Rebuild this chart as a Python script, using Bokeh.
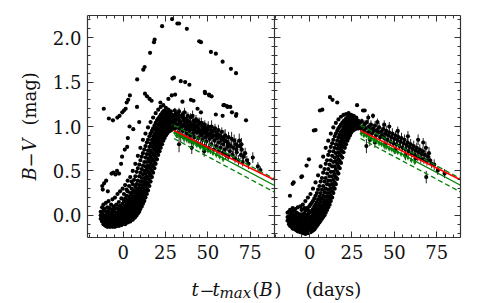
from bokeh.plotting import figure
from bokeh.models import (ColumnDataSource, SingleIntervalTicker, FixedTicker, PrintfTickFormatter,
                          LinearAxis, Range1d)
from bokeh.embed import file_html
from bokeh.resources import INLINE
from bokeh.core.properties import value
import math

# ---------------- data (t - tmax(B) [days], B-V [mag]) ----------------
X_RANGE = (-21, 89)          # each panel
Y_RANGE = (-0.25, 2.25)
TICK_DAYS = [0, 25, 50, 75]
MINOR_DAYS = [-20, -15, -10, -5, 5, 10, 15, 20, 30, 35, 40, 45, 55, 60, 65, 70, 80, 85]

# ---- left panel: rising part, per epoch the B-V values
LEFT_RISE = [
    (-13.2, [-0.04, 0.0, 0.04]),
    (-12.4, [-0.07, -0.03, 0.02, 0.09]),
    (-11.6, [-0.1, -0.06, -0.02, 0.05, 0.12]),
    (-10.9, [-0.11, -0.08, -0.04, 0.0, 0.07]),
    (-10.1, [-0.12, -0.09, -0.05, -0.01, 0.04, 0.14]),
    (-9.3, [-0.13, -0.1, -0.07, -0.03, 0.02, 0.09]),
    (-8.6, [-0.12, -0.09, -0.05, -0.01, 0.05, 0.16]),
    (-7.8, [-0.13, -0.1, -0.07, -0.04, 0.0, 0.08]),
    (-7.1, [-0.12, -0.08, -0.05, -0.02, 0.03, 0.12]),
    (-6.3, [-0.13, -0.1, -0.06, -0.03, 0.01, 0.06, 0.18]),
    (-5.5, [-0.12, -0.09, -0.06, -0.02, 0.04, 0.1]),
    (-4.8, [-0.13, -0.1, -0.07, -0.04, 0.0, 0.07, 0.2]),
    (-4.0, [-0.12, -0.08, -0.05, -0.01, 0.03, 0.12]),
    (-3.3, [-0.11, -0.09, -0.05, -0.02, 0.02, 0.08, 0.24]),
    (-2.5, [-0.12, -0.08, -0.04, 0.0, 0.05, 0.15]),
    (-1.8, [-0.1, -0.07, -0.03, 0.01, 0.06, 0.11, 0.27]),
    (-1.0, [-0.11, -0.07, -0.04, 0.0, 0.04, 0.09, 0.19]),
    (-0.3, [-0.1, -0.06, -0.02, 0.02, 0.07, 0.13, 0.3]),
    (0.5, [-0.09, -0.05, -0.01, 0.03, 0.08, 0.16, 0.24]),
    (1.2, [-0.1, -0.06, -0.02, 0.02, 0.06, 0.11, 0.19, 0.34]),
    (2.0, [-0.08, -0.04, 0.0, 0.04, 0.09, 0.14, 0.22, 0.29]),
    (2.7, [-0.08, -0.05, -0.01, 0.03, 0.07, 0.12, 0.17, 0.27, 0.39]),
    (3.5, [-0.07, -0.03, 0.01, 0.05, 0.1, 0.15, 0.21, 0.33]),
    (4.2, [-0.07, -0.04, 0.0, 0.04, 0.08, 0.13, 0.19, 0.25, 0.43]),
    (5.0, [-0.05, -0.02, 0.02, 0.06, 0.11, 0.16, 0.23, 0.3, 0.38]),
    (5.7, [-0.05, -0.01, 0.03, 0.08, 0.13, 0.19, 0.26, 0.35, 0.5]),
    (6.5, [-0.03, 0.01, 0.05, 0.1, 0.15, 0.21, 0.28, 0.4]),
    (7.2, [-0.02, 0.02, 0.06, 0.11, 0.17, 0.24, 0.32, 0.44, 0.58]),
    (8.0, [0.0, 0.04, 0.09, 0.14, 0.2, 0.27, 0.35, 0.49]),
    (8.7, [0.02, 0.06, 0.11, 0.17, 0.23, 0.3, 0.39, 0.53, 0.67]),
    (9.5, [0.04, 0.09, 0.14, 0.2, 0.27, 0.34, 0.44, 0.57]),
    (10.2, [0.07, 0.12, 0.17, 0.23, 0.3, 0.38, 0.48, 0.62, 0.76]),
    (11.0, [0.1, 0.15, 0.21, 0.27, 0.34, 0.42, 0.52, 0.66]),
    (11.7, [0.13, 0.18, 0.24, 0.31, 0.38, 0.46, 0.56, 0.7, 0.85]),
    (12.5, [0.16, 0.22, 0.28, 0.35, 0.42, 0.5, 0.6, 0.74]),
    (13.2, [0.2, 0.26, 0.33, 0.4, 0.47, 0.55, 0.65, 0.78, 0.92]),
    (14.0, [0.24, 0.3, 0.37, 0.44, 0.52, 0.6, 0.69, 0.82]),
    (14.7, [0.28, 0.35, 0.42, 0.49, 0.56, 0.64, 0.73, 0.85, 0.99]),
    (15.5, [0.33, 0.4, 0.47, 0.54, 0.61, 0.69, 0.77, 0.89]),
    (16.2, [0.38, 0.45, 0.52, 0.59, 0.66, 0.73, 0.81, 0.92, 1.05]),
    (17.0, [0.43, 0.5, 0.57, 0.64, 0.71, 0.78, 0.85, 0.95]),
    (17.7, [0.48, 0.55, 0.62, 0.69, 0.76, 0.82, 0.89, 0.98, 1.1]),
    (18.5, [0.53, 0.6, 0.67, 0.74, 0.8, 0.86, 0.92, 1.01]),
    (19.2, [0.58, 0.65, 0.72, 0.78, 0.84, 0.9, 0.96, 1.04, 1.15]),
    (20.0, [0.63, 0.7, 0.76, 0.82, 0.88, 0.93, 0.99, 1.07]),
    (20.7, [0.68, 0.74, 0.8, 0.86, 0.91, 0.96, 1.02, 1.09, 1.19]),
    (21.5, [0.72, 0.78, 0.84, 0.89, 0.94, 0.99, 1.04, 1.11]),
    (22.2, [0.76, 0.82, 0.87, 0.92, 0.97, 1.02, 1.07, 1.13, 1.22]),
    (23.0, [0.8, 0.85, 0.9, 0.95, 1.0, 1.04, 1.09, 1.15]),
    (23.7, [0.84, 0.89, 0.93, 0.98, 1.02, 1.06, 1.11, 1.17, 1.24]),
    (24.5, [0.87, 0.92, 0.96, 1.0, 1.04, 1.08, 1.12, 1.18]),
    (25.2, [0.9, 0.94, 0.98, 1.02, 1.06, 1.1, 1.14, 1.21]),
    (26.0, [0.92, 0.96, 1.0, 1.04, 1.08, 1.12, 1.16]),
    (26.7, [0.94, 0.98, 1.02, 1.06, 1.1, 1.14, 1.19]),
    (27.5, [0.95, 0.99, 1.03, 1.07, 1.11, 1.15]),
    (28.2, [0.96, 1.0, 1.04, 1.08, 1.12, 1.17]),
    (29.0, [0.97, 1.01, 1.05, 1.09, 1.13]),
]

# ---- left panel: sparse objects (red / peculiar SNe)
LEFT_SPARSE = [(-11.4,1.2),(-8.4,1.09),(-6.0,1.07),(-3.4,1.1),(-2.1,1.12),(-0.5,1.16),(0.5,1.18),(1.5,1.2),(2.1,1.27),(3.0,1.3),(4.0,1.35),(8.3,1.53),(11.9,1.64),(12.7,1.67),(15.9,1.83),(18.2,1.95),(18.6,1.98),(23.0,2.13),(28.9,2.21),(32.0,2.16),(33.0,2.16),(37.6,2.1),(44.9,1.96),(45.9,1.95),(51.8,1.84),(54.7,1.82),(58.7,1.73),(63.6,1.65),(66.6,1.6),
               (-12.3,0.33),(-12.0,0.29),(-11.2,0.36),(-10.0,0.39),(-9.0,0.27),(-6.8,0.47),(-5.8,0.48),(-4.5,0.46),(-3.6,0.5),(-2.4,0.47),(-1.2,0.58),(-0.6,0.66),(1.0,0.74),(2.4,0.77),(2.8,0.87),(3.8,1.0),(6.0,0.97),(8.2,1.22),(9.5,1.05),(12.9,1.37),(14.1,1.34),(15.6,1.31),(16.8,1.29),(22.0,1.27),(26.7,1.31),(28.7,1.35),(30.7,1.36),(35.0,1.28),(40.0,1.3),(41.5,1.29),(43.9,1.2),(45.9,1.16),(48.4,1.375),(50.8,1.35),(54.7,1.135),(58.7,1.12),(59.7,1.24),(61.6,1.22),(64.2,1.16),(66.6,1.12),
               (29.1,1.54),(30.0,1.55),(34.0,1.51),(36.6,1.5),(39.1,1.47),(48.2,1.39),(50.7,1.36),(52.2,1.34),(59.2,1.24),(61.2,1.23),(63.2,1.22),(66.8,1.14),(72.5,1.07)]

# ---- left panel: late-time decline (t, B-V, error)
LEFT_DECLINE = [(29.5,1.12,0.03),(30.2,1.05,0.04),(30.8,0.98,0.05),(31.0,1.15,0.03),(31.5,1.08,0.04),(32.0,1.02,0.05),(32.3,0.93,0.06),(32.8,1.1,0.03),(33.2,0.98,0.04),(33.6,1.05,0.05),(34.0,0.9,0.08),(34.4,1.12,0.04),(34.8,1.0,0.03),(35.2,0.95,0.05),(35.6,1.07,0.04),(36.0,0.88,0.06),(36.4,1.02,0.03),(36.8,0.97,0.05),(37.2,1.09,0.08),(37.6,0.92,0.04),(38.0,1.0,0.05),(38.4,0.86,0.05),(38.8,1.04,0.04),(39.2,0.95,0.06),(39.6,0.9,0.03),(40.0,1.02,0.05),(40.4,0.84,0.04),(40.8,0.97,0.07),(41.2,0.92,0.04),(41.6,1.06,0.05),(42.0,0.88,0.03),(42.4,0.95,0.06),(42.8,1.0,0.05),(43.2,0.82,0.04),(43.6,0.93,0.05),(44.0,0.99,0.06),(44.4,0.87,0.04),(44.8,0.95,0.05),(45.2,1.03,0.07),(45.6,0.8,0.04),(46.0,0.9,0.05),(46.4,0.96,0.05),(46.8,0.85,0.06),(47.2,0.92,0.04),(47.6,1.0,0.06),(48.0,0.78,0.05),(48.4,0.88,0.04),(48.8,0.94,0.07),(49.2,0.83,0.05),(49.6,0.9,0.04),(50.0,0.97,0.06),(50.5,0.76,0.05),(51.0,0.86,0.05),(51.5,0.92,0.06),(52.0,0.8,0.04),(52.5,0.88,0.07),(53.0,0.95,0.05),(53.5,0.74,0.05),(54.0,0.84,0.06),(54.5,0.9,0.05),(55.0,0.78,0.04),(55.5,0.87,0.06),(56.0,0.72,0.05),(56.5,0.82,0.07),(57.0,0.9,0.05),(57.5,0.76,0.05),(58.0,0.85,0.06),(58.5,0.7,0.04),(59.0,0.8,0.06),(59.5,0.88,0.08),(60.0,0.74,0.05),(60.5,0.68,0.05),(61.0,0.83,0.07),(61.5,0.77,0.05),(62.0,0.66,0.04),(62.5,0.79,0.06),(63.0,0.72,0.05),(64.0,0.86,0.08),(64.5,0.68,0.05),(65.0,0.76,0.06),(66.0,0.64,0.05),(66.5,0.8,0.07),(67.0,0.71,0.05),(68.0,0.62,0.06),(68.5,0.84,0.08),(69.0,0.78,0.06),(69.5,0.68,0.05),(70.0,0.74,0.07),(70.5,0.6,0.05),(71.0,0.66,0.06),(72.0,0.7,0.06),(73.0,0.62,0.05),(74.0,0.58,0.06),(76.5,0.65,0.06),(79.5,0.55,0.05),(81.0,0.51,0.04),
                (30.5,1.18,0.03),(31.8,1.13,0.03),(33.0,1.17,0.04),(35.0,1.13,0.04),(36.2,1.16,0.05),(38.2,1.12,0.04),(39.8,1.1,0.05),(41.0,1.12,0.06),(43.0,1.08,0.05),(44.2,1.06,0.04),(46.2,1.04,0.06),(48.2,1.02,0.05),(50.2,1.0,0.06),(52.2,1.0,0.07),(54.2,0.98,0.05),(56.2,0.96,0.06),(58.2,0.94,0.05),(60.2,0.9,0.07),(62.2,0.88,0.06),(65.5,0.84,0.07),(67.5,0.78,0.06),
                (28.5,1.05,0.04),(29.0,0.99,0.05),(29.8,1.08,0.04),(30.6,1.12,0.05),(31.2,1.02,0.04),(32.5,1.14,0.05),(33.4,1.06,0.04),(34.2,1.03,0.06),(35.4,1.1,0.05),(36.6,1.05,0.04),(37.0,1.0,0.05),(37.9,1.07,0.06),(38.6,0.98,0.04),(39.4,1.05,0.05),(40.2,0.99,0.04),(41.4,1.02,0.05),(42.2,0.98,0.06),(42.6,1.05,0.05),(43.8,1.01,0.04),(44.6,0.97,0.05),(45.4,0.93,0.04),(46.6,1.0,0.06),(47.4,0.96,0.05),(48.6,0.98,0.05),(49.4,0.93,0.06),(50.8,0.9,0.05),(51.8,0.96,0.05),(53.2,0.9,0.06),(54.8,0.94,0.05),(55.8,0.91,0.06),(57.8,0.88,0.05),(59.8,0.84,0.06),(61.8,0.81,0.06),(63.5,0.78,0.05),(66.8,0.74,0.06),(69.8,0.8,0.07),
                (33.0,0.8,0.09),(40.5,0.76,0.07),(47.8,0.72,0.06)]
LEFT_GREEN = [(30.5,0.93),(31.5,0.9),(32.5,0.92),(33.5,0.89),(34.5,0.9),(35.5,0.87),(36.5,0.88),(37.5,0.85),(38.5,0.86),(39.5,0.83),(40.5,0.84),(41.5,0.81),(42.5,0.82),(43.5,0.79),(44.5,0.8),(45.5,0.77),(46.5,0.78),(47.5,0.75),(48.5,0.76),(50.0,0.73),(51.5,0.72),(53.0,0.7),(55.0,0.68),(57.0,0.66),(59.0,0.63)]

# ---- right panel: rising part
RIGHT_RISE = [
    (-13.0, [-0.06, -0.02, 0.03]),
    (-12.2, [-0.1, -0.06, -0.02, 0.04]),
    (-11.5, [-0.12, -0.08, -0.04, 0.0, 0.06]),
    (-10.7, [-0.13, -0.1, -0.06, -0.02, 0.03]),
    (-10.0, [-0.15, -0.11, -0.07, -0.03, 0.02, 0.08]),
    (-9.2, [-0.15, -0.12, -0.08, -0.04, 0.0, 0.05]),
    (-8.5, [-0.16, -0.13, -0.09, -0.05, -0.01, 0.07]),
    (-7.7, [-0.17, -0.14, -0.1, -0.06, -0.02, 0.03]),
    (-7.0, [-0.18, -0.14, -0.11, -0.07, -0.03, 0.02, 0.09]),
    (-6.2, [-0.18, -0.15, -0.12, -0.08, -0.04, 0.01]),
    (-5.5, [-0.19, -0.16, -0.12, -0.08, -0.04, 0.0, 0.1]),
    (-4.7, [-0.19, -0.16, -0.13, -0.09, -0.05, 0.01, 0.06]),
    (-4.0, [-0.2, -0.17, -0.13, -0.09, -0.05, -0.01, 0.12]),
    (-3.2, [-0.2, -0.17, -0.13, -0.09, -0.04, 0.02, 0.08]),
    (-2.5, [-0.21, -0.17, -0.14, -0.1, -0.06, -0.01, 0.05, 0.16]),
    (-1.7, [-0.2, -0.17, -0.13, -0.09, -0.05, 0.0, 0.08]),
    (-1.0, [-0.2, -0.17, -0.13, -0.09, -0.04, 0.01, 0.06, 0.2]),
    (-0.2, [-0.19, -0.16, -0.12, -0.08, -0.03, 0.03, 0.1]),
    (0.5, [-0.19, -0.15, -0.11, -0.07, -0.02, 0.04, 0.12, 0.24]),
    (1.3, [-0.18, -0.14, -0.1, -0.06, -0.01, 0.05, 0.14]),
    (2.0, [-0.17, -0.13, -0.09, -0.04, 0.01, 0.07, 0.16, 0.3]),
    (2.8, [-0.16, -0.12, -0.08, -0.03, 0.03, 0.1, 0.19]),
    (3.5, [-0.14, -0.1, -0.06, -0.01, 0.05, 0.12, 0.22, 0.37]),
    (4.3, [-0.12, -0.08, -0.04, 0.01, 0.07, 0.15, 0.25]),
    (5.0, [-0.1, -0.06, -0.02, 0.03, 0.1, 0.18, 0.29, 0.45]),
    (5.8, [-0.08, -0.04, 0.01, 0.06, 0.13, 0.21, 0.33]),
    (6.5, [-0.06, -0.02, 0.03, 0.09, 0.16, 0.25, 0.38, 0.55]),
    (7.3, [-0.04, 0.0, 0.05, 0.11, 0.19, 0.29, 0.42]),
    (8.0, [-0.02, 0.03, 0.08, 0.14, 0.22, 0.33, 0.48, 0.66]),
    (8.8, [0.0, 0.05, 0.11, 0.17, 0.26, 0.38, 0.52]),
    (9.5, [0.03, 0.08, 0.14, 0.21, 0.3, 0.42, 0.58, 0.76]),
    (10.3, [0.06, 0.11, 0.17, 0.25, 0.35, 0.47, 0.62]),
    (11.0, [0.09, 0.14, 0.21, 0.29, 0.39, 0.52, 0.68, 0.84]),
    (11.8, [0.12, 0.18, 0.25, 0.34, 0.44, 0.57, 0.72]),
    (12.5, [0.16, 0.22, 0.3, 0.39, 0.49, 0.62, 0.77, 0.92]),
    (13.3, [0.2, 0.27, 0.35, 0.44, 0.55, 0.67, 0.81]),
    (14.0, [0.25, 0.32, 0.4, 0.49, 0.6, 0.72, 0.85, 0.99]),
    (14.8, [0.3, 0.37, 0.46, 0.55, 0.65, 0.76, 0.89]),
    (15.5, [0.35, 0.43, 0.52, 0.61, 0.7, 0.8, 0.92, 1.04]),
    (16.3, [0.41, 0.49, 0.58, 0.66, 0.75, 0.84, 0.95]),
    (17.0, [0.47, 0.55, 0.63, 0.71, 0.79, 0.88, 0.98, 1.08]),
    (17.8, [0.53, 0.61, 0.69, 0.76, 0.83, 0.91, 1.0]),
    (18.5, [0.59, 0.67, 0.74, 0.8, 0.87, 0.94, 1.02, 1.11]),
    (19.3, [0.65, 0.72, 0.78, 0.84, 0.9, 0.96, 1.04]),
    (20.0, [0.71, 0.77, 0.82, 0.87, 0.93, 0.99, 1.06, 1.13]),
    (20.8, [0.76, 0.81, 0.86, 0.91, 0.96, 1.01, 1.07]),
    (21.5, [0.8, 0.85, 0.89, 0.94, 0.98, 1.03, 1.09, 1.14]),
    (22.3, [0.84, 0.88, 0.92, 0.96, 1.0, 1.05, 1.1]),
    (23.0, [0.87, 0.91, 0.95, 0.99, 1.02, 1.06, 1.11, 1.15]),
    (23.8, [0.9, 0.94, 0.97, 1.0, 1.04, 1.08, 1.12]),
    (24.5, [0.93, 0.96, 0.99, 1.02, 1.05, 1.09, 1.13]),
    (25.3, [0.95, 0.98, 1.01, 1.04, 1.07, 1.1]),
    (26.0, [0.96, 0.99, 1.02, 1.05, 1.08, 1.12]),
    (26.8, [0.97, 1.0, 1.03, 1.06, 1.09]),
    (27.5, [0.98, 1.01, 1.04, 1.07, 1.1]),
    (28.3, [0.98, 1.01, 1.04, 1.07]),
    (29.0, [0.98, 1.01, 1.04, 1.06]),
]
RIGHT_SPARSE = [(-11.6,0.22),(-10,0.355),(-9.4,0.37),(-4.9,0.43),(-4.5,0.44),(-1.8,0.56),(-0.4,0.63),(2.5,0.955),(3.5,0.96),(6.1,1.18),(7.5,1.19),(12,1.33),(13.5,1.3),(16.3,1.27),(28,1.24),(31.5,1.18),(32.5,1.18)]
RIGHT_DECLINE = [(29.6,1.04,0.03),(30.2,0.98,0.04),(30.8,1.06,0.03),(31.4,1.0,0.05),(32.0,0.95,0.04),(32.6,1.03,0.04),(33.2,0.98,0.05),(33.8,1.05,0.03),(34.4,0.93,0.05),(35.0,1.0,0.04),(35.6,0.96,0.04),(36.2,1.02,0.05),(36.8,0.92,0.04),(37.4,0.98,0.05),(38.0,0.95,0.03),(38.6,1.01,0.05),(39.2,0.9,0.04),(39.8,0.96,0.05),(40.4,0.93,0.04),(41.0,0.99,0.05),(41.6,0.88,0.04),(42.2,0.94,0.05),(42.8,0.9,0.04),(43.4,0.97,0.05),(44.0,0.87,0.04),(44.6,0.92,0.05),(45.2,0.95,0.06),(45.8,0.85,0.04),(46.4,0.9,0.05),(47.0,0.93,0.05),(47.6,0.83,0.04),(48.2,0.88,0.05),(48.8,0.92,0.06),(49.4,0.81,0.04),(50.0,0.86,0.05),(50.6,0.9,0.05),(51.2,0.8,0.04),(51.8,0.85,0.05),(52.4,0.88,0.06),(53.0,0.78,0.04),(53.6,0.83,0.05),(54.2,0.87,0.06),(54.8,0.76,0.04),(55.4,0.81,0.05),(56.0,0.85,0.06),(56.6,0.74,0.04),(57.2,0.79,0.05),(57.8,0.82,0.06),(58.4,0.72,0.05),(59.0,0.77,0.05),(59.6,0.8,0.06),(60.2,0.7,0.05),(60.8,0.75,0.05),(61.4,0.78,0.06),(62.0,0.68,0.05),(62.6,0.73,0.05),(63.2,0.76,0.06),(63.8,0.66,0.05),(64.4,0.71,0.05),(65.0,0.74,0.06),(65.6,0.64,0.05),(66.2,0.69,0.06),(66.8,0.72,0.05),(67.4,0.63,0.05),(68.0,0.68,0.06),(68.6,0.76,0.07),(69.2,0.61,0.05),(69.8,0.66,0.05),(70.4,0.7,0.07),(71.0,0.62,0.05),(72.0,0.58,0.05),(73.5,0.57,0.06),(75.6,0.505,0.05),(79.6,0.47,0.05),(68.8,0.43,0.07),
                 (33.5,0.78,0.08),(35.5,0.85,0.07),(38.5,0.82,0.06),(44.5,0.8,0.06),(50.5,0.74,0.05),(56.5,0.68,0.06),(62.5,0.64,0.06),
                 (34.6,1.1,0.04),(37.4,1.12,0.03),(40.0,1.05,0.04),(44.0,1.02,0.05),(47.0,1.0,0.05),(52.0,0.95,0.05),(58.0,0.89,0.06),(64.0,0.85,0.06),(67.0,0.82,0.05)]
RIGHT_GREEN = [(30.5,0.92),(32,0.9),(33.5,0.9),(35,0.87),(36.5,0.86),(38,0.84),(39.5,0.83),(41,0.81),(42.5,0.8),(44,0.78),(45.5,0.77),(47,0.75),(48.5,0.74),(50,0.72),(52,0.71),(54,0.69),(56,0.67),(58,0.65),(60,0.62),(62,0.6)]

# ---- fitted late-time relations: (B-V)(t) = b + slope * (t - 60)
FIT_START = 30
RED_FIT = (0.673, -0.0094)
GREEN_FIT = (0.634, -0.0102)
GREEN_SIGMA = 0.075

# ---------------- layout / style ----------------
FONT = "DejaVu Serif"
AX_COLOR = "#333333"
TXT_COLOR = "#111111"
DOT = 4.2
W, H = 470, 300
BOX_LEFT, BOX_TOP, BOX_W, BOX_H = 87, 15, 373, 222     # pixel box holding both panels
SPAN = X_RANGE[1] - X_RANGE[0]                          # days in one panel
PX_DAY = BOX_W / (2 * SPAN)
PX_MAG = BOX_H / (Y_RANGE[1] - Y_RANGE[0])

# the frame fills the canvas; the panels sit inside it, drawn by fixed-location axes
x_lo = X_RANGE[0] - BOX_LEFT / PX_DAY
x_hi = X_RANGE[0] + (W - BOX_LEFT) / PX_DAY
y_hi = Y_RANGE[1] + BOX_TOP / PX_MAG
y_lo = Y_RANGE[1] - (H - BOX_TOP) / PX_MAG

p = figure(width=W, height=H, x_range=Range1d(x_lo, x_hi), y_range=Range1d(y_lo, y_hi),
           x_axis_location=None, y_axis_location=None,
           toolbar_location=None, output_backend="svg", min_border=0,
           background_fill_color="white", border_fill_color="white")
p.extra_x_ranges = {"right": Range1d(x_lo - SPAN, x_hi - SPAN)}
p.outline_line_color = None
p.grid.visible = False

X_BOUNDS = (X_RANGE[0], X_RANGE[1] + SPAN)


def style_axis(ax, show_labels):
    ax.axis_line_color = AX_COLOR
    ax.axis_line_width = 1.2
    ax.major_tick_line_color = AX_COLOR
    ax.minor_tick_line_color = AX_COLOR
    ax.major_tick_in = 6
    ax.major_tick_out = 0
    ax.minor_tick_in = 3
    ax.minor_tick_out = 0
    ax.major_label_text_font = FONT
    if show_labels:
        ax.major_label_text_font_size = "18px"
        ax.major_label_text_color = TXT_COLOR
    else:
        ax.major_label_text_font_size = "1px"
        ax.major_label_text_color = None
        ax.major_label_standoff = 0


x_major = [d + off for off in (0, SPAN) for d in TICK_DAYS]
x_minor = [d + off for off in (0, SPAN) for d in MINOR_DAYS]
x_overrides = {d + SPAN: str(d) for d in TICK_DAYS}
for loc, yloc in (("below", Y_RANGE[0]), ("above", Y_RANGE[1])):
    ax = LinearAxis(ticker=FixedTicker(ticks=x_major, minor_ticks=x_minor),
                    major_label_overrides=x_overrides, fixed_location=yloc, bounds=X_BOUNDS)
    style_axis(ax, loc == "below")
    if loc == "below":
        ax.major_label_standoff = 7
    p.add_layout(ax, loc)

for loc, xloc in (("left", X_BOUNDS[0]), ("right", X_BOUNDS[1]), ("left", X_RANGE[1])):
    ax = LinearAxis(ticker=SingleIntervalTicker(interval=0.5, num_minor_ticks=5),
                    formatter=PrintfTickFormatter(format="%.1f"),
                    fixed_location=xloc, bounds=Y_RANGE)
    labelled = xloc == X_BOUNDS[0]
    style_axis(ax, labelled)
    if labelled:
        ax.major_label_standoff = 6
    if xloc == X_RANGE[1]:          # shared boundary: ticks on both sides
        ax.major_tick_out = 6
        ax.minor_tick_out = 3
    p.add_layout(ax, loc)


def draw_panel(rise, sparse, decline, green, rng):
    kw = {} if rng is None else {"x_range_name": rng}
    rx = [t for t, ys in rise for _ in ys]
    ry = [y for _, ys in rise for y in ys]
    p.scatter(rx, ry, size=DOT, color="black", line_width=0, **kw)
    p.scatter([t for t, _ in sparse], [y for _, y in sparse], size=DOT, color="black", line_width=0, **kw)

    dsrc = ColumnDataSource(dict(
        t=[d[0] for d in decline], y=[d[1] for d in decline],
        lo=[d[1] - d[2] for d in decline], hi=[d[1] + d[2] for d in decline]))
    p.segment(x0="t", y0="lo", x1="t", y1="hi", source=dsrc, line_color="#222222", line_width=1, **kw)
    p.scatter("t", "y", source=dsrc, size=DOT, color="black", line_width=0, **kw)

    gsrc = ColumnDataSource(dict(
        t=[g[0] for g in green], y=[g[1] for g in green],
        lo=[g[1] - 0.03 for g in green], hi=[g[1] + 0.03 for g in green]))
    p.segment(x0="t", y0="lo", x1="t", y1="hi", source=gsrc, line_color="green", line_width=1, **kw)
    p.scatter("t", "y", source=gsrc, size=3, color="green", line_width=0, **kw)

    ts = [FIT_START, X_RANGE[1]]

    def fit(b, s, off=0.0):
        return [b + off + s * (t - 60) for t in ts]
    gb, gs = GREEN_FIT
    p.line(ts, fit(gb, gs), line_color="green", line_width=1.3, **kw)
    p.line(ts, fit(gb, gs, GREEN_SIGMA), line_color="green", line_width=1.3, line_dash="5 3", **kw)
    p.line(ts, fit(gb, gs, -GREEN_SIGMA), line_color="green", line_width=1.3, line_dash="5 3", **kw)
    rb, rs = RED_FIT
    p.line(ts, fit(rb, rs), line_color="red", line_width=1.5, **kw)


draw_panel(LEFT_RISE, LEFT_SPARSE, LEFT_DECLINE, LEFT_GREEN, None)
draw_panel(RIGHT_RISE, RIGHT_SPARSE, RIGHT_DECLINE, RIGHT_GREEN, "right")


# ---------------- axis titles (mixed italic / upright pieces) ----------------
def at(px, py):
    """canvas pixel -> main data coordinates (title placement only)"""
    return x_lo + px / PX_DAY, y_hi - py / PX_MAG


def piece(text, px, py, italic=False, size="18px", angle=0.0):
    x, y = at(px, py)
    p.text(x=[x], y=[y], text=[text], angle=angle,
           text_font=value(FONT), text_font_size=size,
           text_font_style="italic" if italic else "normal",
           text_color=TXT_COLOR, text_align="left", text_baseline="alphabetic")


# x title:  t − t_max (B)  (days)
BASE = 289
piece("t", 191, BASE, italic=True)
piece("\u2212", 199, BASE)
piece("t", 212, BASE, italic=True)
piece("max", 219, BASE + 3, italic=True, size="15px")
piece("(", 252, BASE)
piece("B", 259, BASE, italic=True)
piece(")", 274, BASE)
piece("(days)", 305, BASE)

# y title:  B − V (mag), rotated
YB = 29
piece("B", YB, 180, italic=True, angle=math.pi / 2)
piece("\u2212", YB, 167, angle=math.pi / 2)
piece("V", YB, 151, italic=True, angle=math.pi / 2)
piece("(mag)", YB, 125, angle=math.pi / 2)

open("out.html", "w").write(file_html(p, INLINE))
